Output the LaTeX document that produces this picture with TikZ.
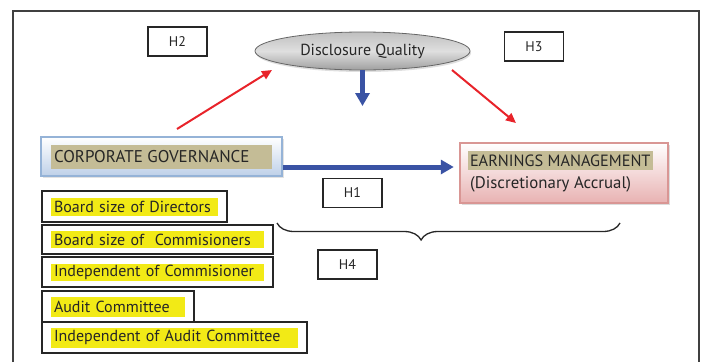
\documentclass[tikz,border=0pt]{standalone}
\usepackage{fontspec}
\setmainfont{PT Sans}
\usetikzlibrary{arrows.meta,shadows,decorations.pathreplacing,shapes.geometric}
\definecolor{hlyellow}{RGB}{242,234,22}
\definecolor{hltan}{RGB}{196,188,150}
\definecolor{arrblue}{RGB}{58,83,164}
\definecolor{arrred}{RGB}{232,35,42}
\definecolor{cgborder}{RGB}{149,179,215}
\definecolor{cgfill}{RGB}{190,208,232}
\definecolor{emborder}{RGB}{217,150,148}
\definecolor{emfill}{RGB}{232,178,178}
\tikzset{
  listbox/.style={draw=black!85, line width=1.6pt, inner sep=0pt},
  hltext/.style={fill=hlyellow, inner xsep=3pt, inner ysep=0pt, align=left, font=\fontsize{16}{18}\selectfont, text=black!85},
  hbox/.style={draw=black!85, line width=1.6pt, inner sep=0pt, minimum width=59pt, minimum height=29pt, font=\fontsize{14}{16}\selectfont, text=black!85},
  bluearrow/.style={draw=arrblue, line width=5pt, -{Triangle[length=13pt,width=14pt]}},
  redarrow/.style={draw=arrred, line width=2pt, -{Triangle[length=10pt,width=9pt]}},
}
\begin{document}
\begin{tikzpicture}[x=1pt,y=-1pt]
\useasboundingbox (0,0) rectangle (702,362);
% outer frame
\draw[black!75, line width=1.3pt] (13,362) -- (13,11) -- (699,11) -- (699,362);

% hypothesis boxes
\node[hbox] (h2) at (177.5,41.5) {H2};
\node[hbox] (h3) at (534,46.5) {H3};
\node[hbox] (h1) at (352.5,193) {H1};
\node[hbox] (h4) at (347.5,264.5) {H4};

% ellipse
\node[ellipse, draw=gray!80!black, line width=0.8pt, minimum width=215pt, minimum height=38pt,
      top color=gray!50, bottom color=gray!75, middle color=gray!25,
      drop shadow={shadow xshift=1pt, shadow yshift=-2pt, fill=gray!50},
      font=\fontsize{16}{18}\selectfont, text=black!85] (dq) at (362.5,51) {Disclosure Quality};

% corporate governance
\node[draw=cgborder, line width=2.5pt, minimum width=241pt, minimum height=39pt, inner sep=0pt,
      top color=white, bottom color=cgfill,
      drop shadow={shadow xshift=2pt, shadow yshift=-2pt, fill=gray!45}] (cg) at (161.5,156.5) {};
\node[fill=hltan, minimum width=221pt, minimum height=24pt, inner xsep=3pt, inner ysep=0pt,
      font=\fontsize{17}{19}\selectfont, text=black!85] (cgt) at (cg.center) {\makebox[215pt][l]{CORPORATE GOVERNANCE}};

% earnings management
\node[draw=emborder, line width=2.5pt, minimum width=208pt, minimum height=60pt, inner sep=0pt,
      top color=white, bottom color=emfill,
      drop shadow={shadow xshift=2pt, shadow yshift=-2pt, fill=gray!55}] (em) at (564,173) {};
\node[fill=hltan, minimum width=185pt, minimum height=19pt, inner xsep=2pt, inner ysep=0pt,
      font=\fontsize{16.3}{18}\selectfont, text=black!85] (emt) at (560.5,160.5) {\makebox[181pt][l]{EARNINGS MANAGEMENT}};
\node[anchor=west, inner sep=0pt, font=\fontsize{16.8}{18}\selectfont, text=black!85] (emd) at (470,184) {(Discretionary Accrual)};

% list boxes
\node[listbox, minimum width=185pt, minimum height=31pt] (b1) at (134.5,206.5) {};
\node[hltext, minimum width=167pt, minimum height=18pt, text width=161pt] (t1) at (b1.center) {Board size of Directors};
\node[listbox, minimum width=231pt, minimum height=29pt] (b2) at (157.5,239.5) {};
\node[hltext, minimum width=213pt, minimum height=17pt, text width=207pt] (t2) at (b2.center) {Board size of\ \ Commisioners};
\node[listbox, minimum width=231pt, minimum height=30pt] (b3) at (157.5,272) {};
\node[hltext, minimum width=213pt, minimum height=17pt, text width=207pt] (t3) at (b3.center) {Independent of Commisioner};
\node[listbox, minimum width=152pt, minimum height=31pt] (b4) at (118,306.5) {};
\node[hltext, minimum width=134pt, minimum height=20pt, text width=128pt] (t4) at (b4.center) {Audit Committee};
\node[listbox, minimum width=265pt, minimum height=31pt] (b5) at (174.5,337.5) {};
\node[hltext, minimum width=247pt, minimum height=20pt, text width=241pt] (t5) at (b5.center) {Independent of Audit Committee};

% connectors
\coordinate (dqend) at (362.5,106);
\draw[bluearrow] (dq.south) -- (dqend);
\draw[bluearrow] ([yshift=-10.5pt]cg.east) -- ([xshift=-5pt,yshift=6pt]em.west);
\coordinate (r1s) at (177,129);
\coordinate (r1e) at (272,70);
\draw[redarrow] (r1s) -- (r1e);
\coordinate (r2s) at (452,70);
\coordinate (r2e) at (516,123);
\draw[redarrow] (r2s) -- (r2e);

% brace
\coordinate (brl) at (277,223);
\coordinate (brr) at (620,223);
\draw[black!85, line width=1.3pt, decorate, decoration={brace, mirror, amplitude=17pt, aspect=0.42}] (brl) -- (brr);
\end{tikzpicture}
\end{document}
